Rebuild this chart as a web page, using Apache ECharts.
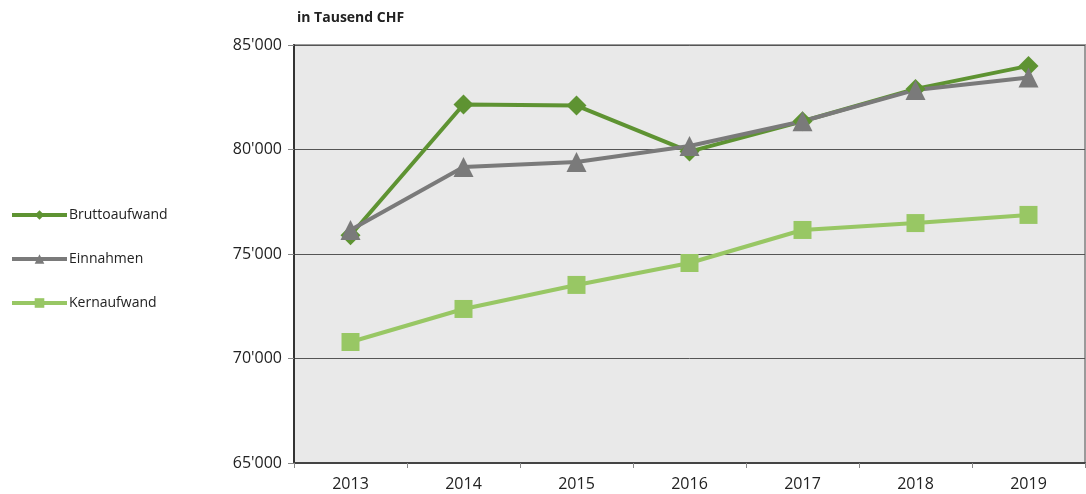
<!DOCTYPE html>
<html>
<head>
<meta charset="utf-8">
<script src="https://cdn.jsdelivr.net/npm/echarts@6/dist/echarts.min.js"></script>
<style>
  html, body { margin: 0; padding: 0; background: #fff; }
  #chart { width: 1086px; height: 494px; }
</style>
</head>
<body>
<div id="chart"></div>
<script>
const years = ['2013', '2014', '2015', '2016', '2017', '2018', '2019'];
const bruttoaufwand = [75900, 82150, 82100, 79900, 81350, 82900, 84000];
const einnahmen = [76150, 79160, 79400, 80170, 81350, 82850, 83450];
const kernaufwand = [70790, 72370, 73520, 74570, 76150, 76480, 76870];

const font = '"Open Sans", "Noto Sans", sans-serif';
const fmt = v => {
  const s = String(v);
  return s.length > 3 ? s.slice(0, -3) + "'" + s.slice(-3) : s;
};

const chart = echarts.init(document.getElementById('chart'));

const mkSeries = (name, data, color, symbol, size) => ({
  name,
  type: 'line',
  data,
  symbol,
  symbolSize: size,
  showSymbol: true,
  lineStyle: { color, width: 4 },
  itemStyle: { color },
  animation: false,
  z: 3
});

chart.setOption({
  animation: false,
  title: {
    text: 'in Tausend CHF',
    left: 292,
    top: 6,
    textStyle: { fontFamily: font, fontSize: 14, fontWeight: 'bold', color: '#222' }
  },
  legend: {
    orient: 'vertical',
    left: 5,
    top: 203,
    itemGap: 30,
    itemWidth: 55,
    itemHeight: 12,
    lineStyle: { width: 4 },
    textStyle: { fontFamily: font, fontSize: 14, color: '#222', padding: [0, 0, 0, -3] },
    data: ['Bruttoaufwand', 'Einnahmen', 'Kernaufwand']
  },
  grid: { left: 294, right: 1, top: 45, bottom: 31, containLabel: false,
    show: true, backgroundColor: '#e9e9e9', borderColor: '#9a9a9a', borderWidth: 2 },
  xAxis: {
    type: 'category',
    data: years,
    boundaryGap: true,
    axisLine: { lineStyle: { color: '#444', width: 2 } },
    axisTick: { show: true, length: 5, lineStyle: { color: '#888' } },
    axisLabel: { fontFamily: font, fontSize: 16, color: '#222', margin: 13 }
  },
  yAxis: {
    type: 'value',
    min: 65000,
    max: 85000,
    interval: 5000,
    axisLine: { show: true, lineStyle: { color: '#333', width: 2 } },
    axisTick: { show: true, length: 6, lineStyle: { color: '#888' } },
    splitLine: { lineStyle: { color: '#555', width: 1 } },
    axisLabel: { fontFamily: font, fontSize: 16, color: '#222', margin: 12, formatter: fmt }
  },
  series: [
    mkSeries('Bruttoaufwand', bruttoaufwand, '#5e9332', 'diamond', 20),
    mkSeries('Einnahmen', einnahmen, '#7a7a7a', 'triangle', 20),
    mkSeries('Kernaufwand', kernaufwand, '#98c764', 'rect', 18)
  ]
});
</script>
</body>
</html>
